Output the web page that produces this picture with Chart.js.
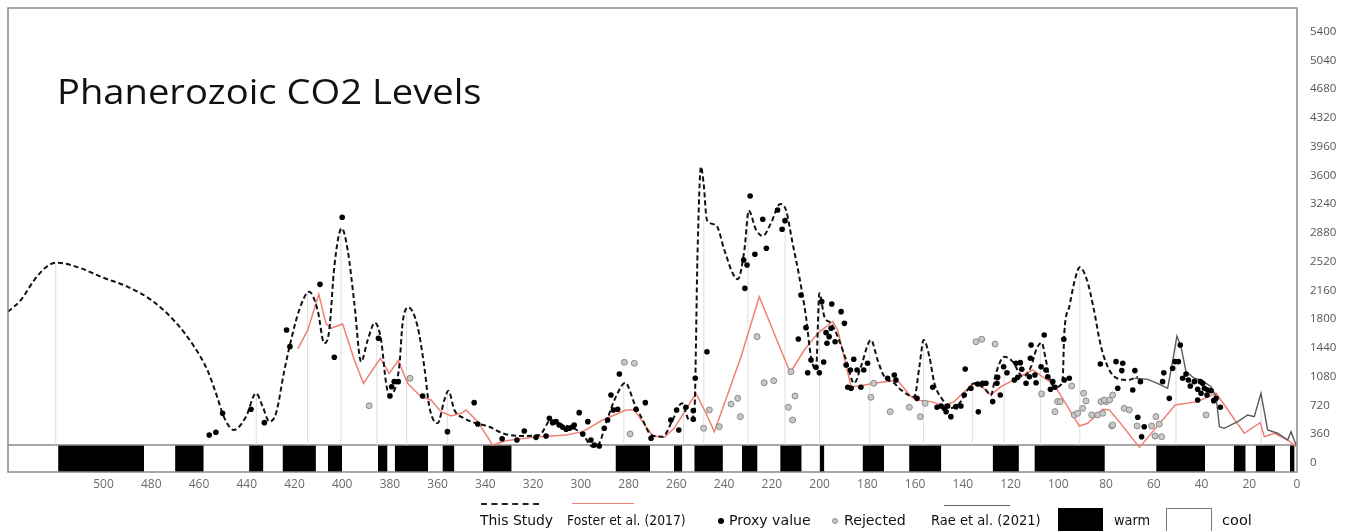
<!DOCTYPE html>
<html><head><meta charset="utf-8">
<script src="https://cdn.jsdelivr.net/npm/chart.js@4.4.1/dist/chart.umd.min.js"></script>
<style>
html,body{margin:0;padding:0;background:#fff;}
#wrap{position:relative;width:1352px;height:531px;overflow:hidden;background:#fff;}
canvas{position:absolute;left:0;top:0;}
#title{position:absolute;left:57px;top:73px;font-family:'Open Sans',sans-serif;font-size:35px;line-height:35px;color:#111;white-space:nowrap;transform-origin:0 50%;}
.lg{position:absolute;top:512px;white-space:nowrap;font-family:'Liberation Sans Narrow','DejaVu Sans Condensed','Open Sans',sans-serif;font-size:14px;line-height:16px;color:#111;transform-origin:0 50%;}
.sym{position:absolute;box-sizing:border-box;}
</style></head>
<body><div id="wrap"><canvas id="c" width="1352" height="531"></canvas>
<div id="title" data-w="425">Phanerozoic CO2 Levels</div>
<div class="sym" style="left:481px;top:503px;width:58px;height:0;border-top:2px dashed #222;"></div>
<div class="lg" style="left:480px" data-w="73">This Study</div>
<div class="sym" style="left:572px;top:503px;width:62px;height:0;border-top:1.5px solid rgb(240,128,115);"></div>
<div class="lg" style="left:567px" data-w="119">Foster et al. (2017)</div>
<div class="sym" style="left:718px;top:518px;width:6px;height:6px;border-radius:50%;background:#000;"></div>
<div class="lg" style="left:729px" data-w="82">Proxy value</div>
<div class="sym" style="left:832px;top:518px;width:6px;height:6px;border-radius:50%;background:#c8c8c8;border:1px solid #888;"></div>
<div class="lg" style="left:844px" data-w="62">Rejected</div>
<div class="sym" style="left:944px;top:505px;width:66px;height:0;border-top:1.5px solid #666;"></div>
<div class="lg" style="left:931px" data-w="110">Rae et al. (2021)</div>
<div class="sym" style="left:1058px;top:508px;width:45px;height:26px;background:#000;"></div>
<div class="lg" style="left:1114px" data-w="36">warm</div>
<div class="sym" style="left:1166px;top:508px;width:46px;height:26px;background:#fff;border:1.5px solid #777;"></div>
<div class="lg" style="left:1222px" data-w="30">cool</div>
</div>
<script>
// ---- data (ages in Myr, CO2 in ppm) ----
const xTicks = [0,20,40,60,80,100,120,140,160,180,200,220,240,260,280,300,320,340,360,380,400,420,440,460,480,500];
const yTicks = [0,360,720,1080,1440,1800,2160,2520,2880,3240,3600,3960,4320,4680,5040,5400];

const studyAge = [540,534.6,529,523.8,519.6,509.4,501,490,480,470,462,456.5,452.4,449.6,445.4,440.3,436.1,433.3,430.5,427.7,424.2,421.4,418,413.8,410.3,407.5,405.4,403.3,400.2,397.7,394.9,392.1,389.3,386.3,383.7,381.6,380.3,376.1,374.7,372.3,368.4,365.6,363.5,360,357.2,355.5,353,349,343.9,338.4,332.8,324.4,317.4,312.5,307.6,302.8,298.6,295.1,292.3,289.5,285.3,281.4,277.6,274.1,270.6,265.7,261.6,257.7,254.6,252.5,251.1,249.7,248.6,247.2,243.4,239.9,236.4,234.3,231.5,229.7,226.6,223.8,220.4,216.5,214.1,211.3,208.5,205.7,203.6,201.5,200.1,198,195.2,192.4,188.9,185.5,182.7,178.5,175.7,172.9,168.7,165.9,160.3,158.2,156.4,154,151.9,148.4,145.6,141.4,138,135.2,131,128.2,126.1,122.6,119.1,114.9,111.4,109.3,107,105.2,103.1,100.3,98.2,97.5,95.4,93,91,88,85.3,82.1,79.3,76.5,70.9,66.7];
const studyCO2 = [1893,2040,2290,2457,2507,2437,2329,2207,2040,1768,1456,1164,830,580,413,580,872,705,517,622,1164,1539,1915,2144,1915,1498,1665,2457,2937,2666,1999,1268,1539,1756,1539,997,851,1205,1748,1948,1706,1205,705,497,788,905,663,560,497,454,372,338,350,538,476,434,329,204,247,497,830,1005,747,538,350,329,538,747,538,622,2666,3708,3500,3041,2979,2666,2374,2299,2666,3158,2916,2841,3000,3241,3166,2749,2332,1831,1330,1164,2124,1831,1748,1581,1289,997,1205,1539,1289,1080,997,914,830,1205,1539,1330,997,788,684,747,914,997,935,851,1122,1330,1268,1080,1205,1414,1506,1289,997,955,1039,1623,1956,2300,2450,2290,1950,1456,1205,1080,1039,1080];

const fosterAge = [418.6,414.4,409.8,406.8,404.7,399.8,394.9,391.1,384,380.3,376.5,372.6,367,362.8,358.6,354.4,350.2,348.1,343.2,337,331.4,320.2,306.2,299.2,290.9,281.1,277.6,269.9,265,260.9,251.8,247.6,244.1,232.9,225.3,212.3,206.4,200.8,194.5,192.4,186.8,183.4,177.1,167.4,161.7,159.6,153.3,147.8,143.6,135.9,131.7,128.2,124,110.7,101.7,96.1,91.2,87.7,81.4,78.6,73.7,66,51,41.6,33.9,22.1,15.4,13.7,9.5,3.9,0.4];
const fosterCO2 = [1427,1665,2111,1748,1686,1740,1289,997,1310,1122,1281,997,830,788,642,588,622,663,517,225,279,321,350,392,538,663,663,338,321,434,872,622,392,1330,2081,1130,1414,1623,1768,1665,955,964,997,1039,830,788,768,713,768,989,947,851,955,1164,976,705,463,497,672,663,488,195,726,768,872,372,505,329,372,288,204];

const raeAge = [68,62.5,58,54.2,52.5,50.3,48.6,46.5,43,40.2,36,33.9,32.5,30.5,26.3,24.8,20.7,17.9,15.1,12.3,8.1,3.9,2.5,0.4];
const raeCO2 = [1060,1047,990,935,1205,1589,1456,1143,1060,1039,955,830,454,434,497,517,601,580,872,413,372,288,392,225];

const proxyAge = [455.7,452.9,450.1,438.2,432.6,423.3,421.9,409.3,403.3,400,384.8,380,379.3,378.2,376.5,366.3,355.9,
344.7,343.2,333,326.8,323.7,318.8,314.6,313.2,311.8,310.4,309.1,307.6,306.2,304.8,303.4,302.8,300.7,299.2,297.1,295.8,294.4,292.3,290.2,288.8,287.4,286.4,284.6,283.9,276.9,273,270.6,262.3,259.9,259,256,252.9,252.1,252.9,
247.2,229.1,223.8,227.1,222.3,231.8,230.4,231.3,217.6,214.5,215.7,207.8,205.7,208.9,203.6,205,201.5,200.1,198.3,199.1,194.9,191,189.6,195.2,197.3,196,193.5,196.9,188.9,185.7,187.1,184.3,181.5,179.9,188.2,186.8,182.7,171.5,168.7,168,
159.2,152.6,150.8,149.1,147.8,146.3,147,145,142.9,140.8,139.4,139,136.6,133.8,131.7,130.3,133.5,127.5,125.4,124.3,125.7,122.9,121.5,118.4,117,115.3,117.7,115.9,113.5,111.4,111.7,112.1,109.8,109.3,107.2,105.9,105.2,104.4,102.3,103.3,101.4,97.7,97.5,95.4,82.4,
75.8,73,73.4,75.1,68.8,67.9,65.6,66.7,64,65.1,55.8,56.3,53.5,52.1,51.1,49.7,48.9,47.9,46.5,45.5,44.7,43,41.6,40.5,39.5,40.2,38.8,37.4,36,37.7,34.9,33.9,32.1,41.6];
const proxyCO2 = [350,384,622,672,505,1665,1456,2236,1323,3075,1561,839,955,1018,1018,839,392,
755,488,304,288,400,321,338,559,505,517,476,447,422,434,454,476,630,363,517,288,225,213,434,538,851,663,672,1114,672,755,309,538,663,413,697,655,1060,547,
1393,3342,3050,2612,2687,2541,2478,2186,3166,3033,2925,2103,1694,1552,1289,1130,1198,1130,1264,2019,1990,1894,1748,1686,1631,1581,1518,1498,1227,1298,1164,1164,1164,1248,947,935,947,1060,1101,1039,
809,947,697,713,684,713,642,580,705,713,851,1176,935,989,997,997,642,768,1072,851,997,1205,1130,1039,1072,1173,1248,1256,997,1477,1310,1080,1101,1005,1205,1602,1164,1080,1018,922,947,1548,1039,1060,1239,
1268,1248,1156,935,914,1156,1018,572,454,329,1130,1018,809,1185,1268,1268,1477,1060,1114,1039,964,1018,922,1018,997,872,935,914,905,851,780,809,697,788];

const rejectedAge = [388.7,371.6,281.8,277.6,279.4,248.6,246.2,242,237.1,234.3,233.2,226.2,223.2,219.2,213.1,211.3,210.3,212,178.5,177.3,170.4,162.4,157.8,155.8,134.5,132.1,126.5,107,101.4,100.3,99.2,94.4,93.3,91.9,89.8,89.4,88.4,86,83.5,82.1,80,77.2,77.6,80.7,78.5,81.4,77.2,72.4,70.3,67,59.1,60.9,57.7,59.5,56.7,38.1];
const rejectedCO2 = [717,1060,1260,1248,363,434,663,454,738,809,580,1581,1005,1030,697,538,839,1143,822,997,642,697,580,747,1518,1548,1489,864,642,768,768,964,601,622,684,872,776,601,601,768,768,851,463,788,788,622,476,684,663,463,580,463,488,338,329,601];

const dropAge = [520,436,414.5,400.5,385.5,373,356,282,257,248.5,230,214.5,200,179,156.5,136,122.7,107.5,91,50.7,15];
const dropTop = [2500,870,2150,2950,1760,1930,880,1000,700,3050,3170,3150,2130,1540,1540,960,1330,1510,2450,1560,860];

const warmFrom = [519,470,439,425,406,385,378,358,341,285.5,261,252.5,232.5,216.5,200,182,162.5,127.5,110,59,26.5,17.3,3];
const warmTo   = [483,458,433,411,400,381,364,353,329,271,257.5,240.5,226,207.5,198,173,149,116.5,80.5,38.5,21.5,9.2,1];

const stripTop = 225;
const yMin = -113, yMax = 5695;

// ---- build datasets ----
const zip = (a, b) => a.map((v, i) => ({x: v, y: b[i]}));
const datasets = [];
datasets.push({label:'Proxy value', data: zip(proxyAge, proxyCO2), showLine:false, pointRadius:2.8, pointBackgroundColor:'#000', pointBorderWidth:0, order:0});
datasets.push({label:'Rejected', data: zip(rejectedAge, rejectedCO2), showLine:false, pointRadius:3, pointBackgroundColor:'#c8c8c8', pointBorderColor:'#8a8a8a', pointBorderWidth:1, order:1});
datasets.push({label:'This Study', data: zip(studyAge, studyCO2), showLine:true, borderColor:'#111', borderWidth:2, borderDash:[5,3], pointRadius:0, cubicInterpolationMode:'monotone', order:2});
datasets.push({label:'Rae et al. (2021)', data: zip(raeAge, raeCO2), showLine:true, borderColor:'#5a5a5a', borderWidth:1.4, pointRadius:0, tension:0, order:3});
datasets.push({label:'Foster et al. (2017)', data: zip(fosterAge, fosterCO2), showLine:true, borderColor:'rgb(240,128,115)', borderWidth:1.5, pointRadius:0, tension:0, order:4});
const dropData = [];
dropAge.forEach((a, i) => { dropData.push({x:a, y:stripTop}, {x:a, y:dropTop[i]}, {x:a, y:null}); });
datasets.push({label:'drop', data: dropData, showLine:true, borderColor:'#dedede', borderWidth:1, pointRadius:0, spanGaps:false, order:5});
datasets.push({label:'stripTop', data:[{x:0,y:stripTop},{x:540,y:stripTop}], showLine:true, borderColor:'#8a8a8a', borderWidth:1.5, pointRadius:0, order:6});
warmFrom.forEach((a, i) => {
  datasets.push({label:'warm', data:[{x:a,y:stripTop},{x:warmTo[i],y:stripTop}], showLine:true, borderWidth:0, borderColor:'rgba(0,0,0,0)', backgroundColor:'#000', fill:'start', pointRadius:0, order:7});
});

const framePlugin = {
  id:'frame',
  afterDatasetsDraw(chart){
    const {ctx, chartArea:a} = chart;
    ctx.save(); ctx.strokeStyle = '#8a8a8a'; ctx.lineWidth = 1.5;
    ctx.strokeRect(a.left, a.top, a.right - a.left, a.bottom - a.top);
    ctx.restore();
  }
};

new Chart(document.getElementById('c'), {
  type:'scatter',
  data:{datasets},
  options:{
    responsive:false, animation:false, devicePixelRatio:1,
    layout:{padding:{left:8, top:8, right:0, bottom:37}},
    plugins:{legend:{display:false}, tooltip:{enabled:false}, title:{display:false}},
    scales:{
      x:{type:'linear', reverse:true, min:0, max:540, position:'bottom',
        grid:{display:false, drawTicks:false}, border:{display:false},
        ticks:{color:'#6a6a6a', font:{family:'Open Sans', size:12}, padding:5, maxRotation:0, autoSkip:false, callback:v=>String(v)},
        afterBuildTicks:s=>{s.ticks = xTicks.map(v=>({value:v}));},
        afterFit:s=>{s.height = 22; s.paddingLeft = 0; s.paddingRight = 0;}},
      y:{type:'linear', position:'right', min:yMin, max:yMax,
        grid:{display:false, drawTicks:false}, border:{display:false},
        ticks:{color:'#555', font:{family:'Open Sans', size:11.5}, padding:13, autoSkip:false, callback:v=>String(v)},
        afterBuildTicks:s=>{s.ticks = yTicks.map(v=>({value:v}));},
        afterFit:s=>{s.width = 55; s.paddingTop = 0; s.paddingBottom = 0;}}
    }
  },
  plugins:[framePlugin]
});

// fit text labels to their measured widths in the reference
document.querySelectorAll('[data-w]').forEach(el => {
  const w = el.offsetWidth, t = +el.dataset.w;
  if (w > 0) el.style.transform = 'scaleX(' + (t / w) + ')';
});
</script>
</body></html>
